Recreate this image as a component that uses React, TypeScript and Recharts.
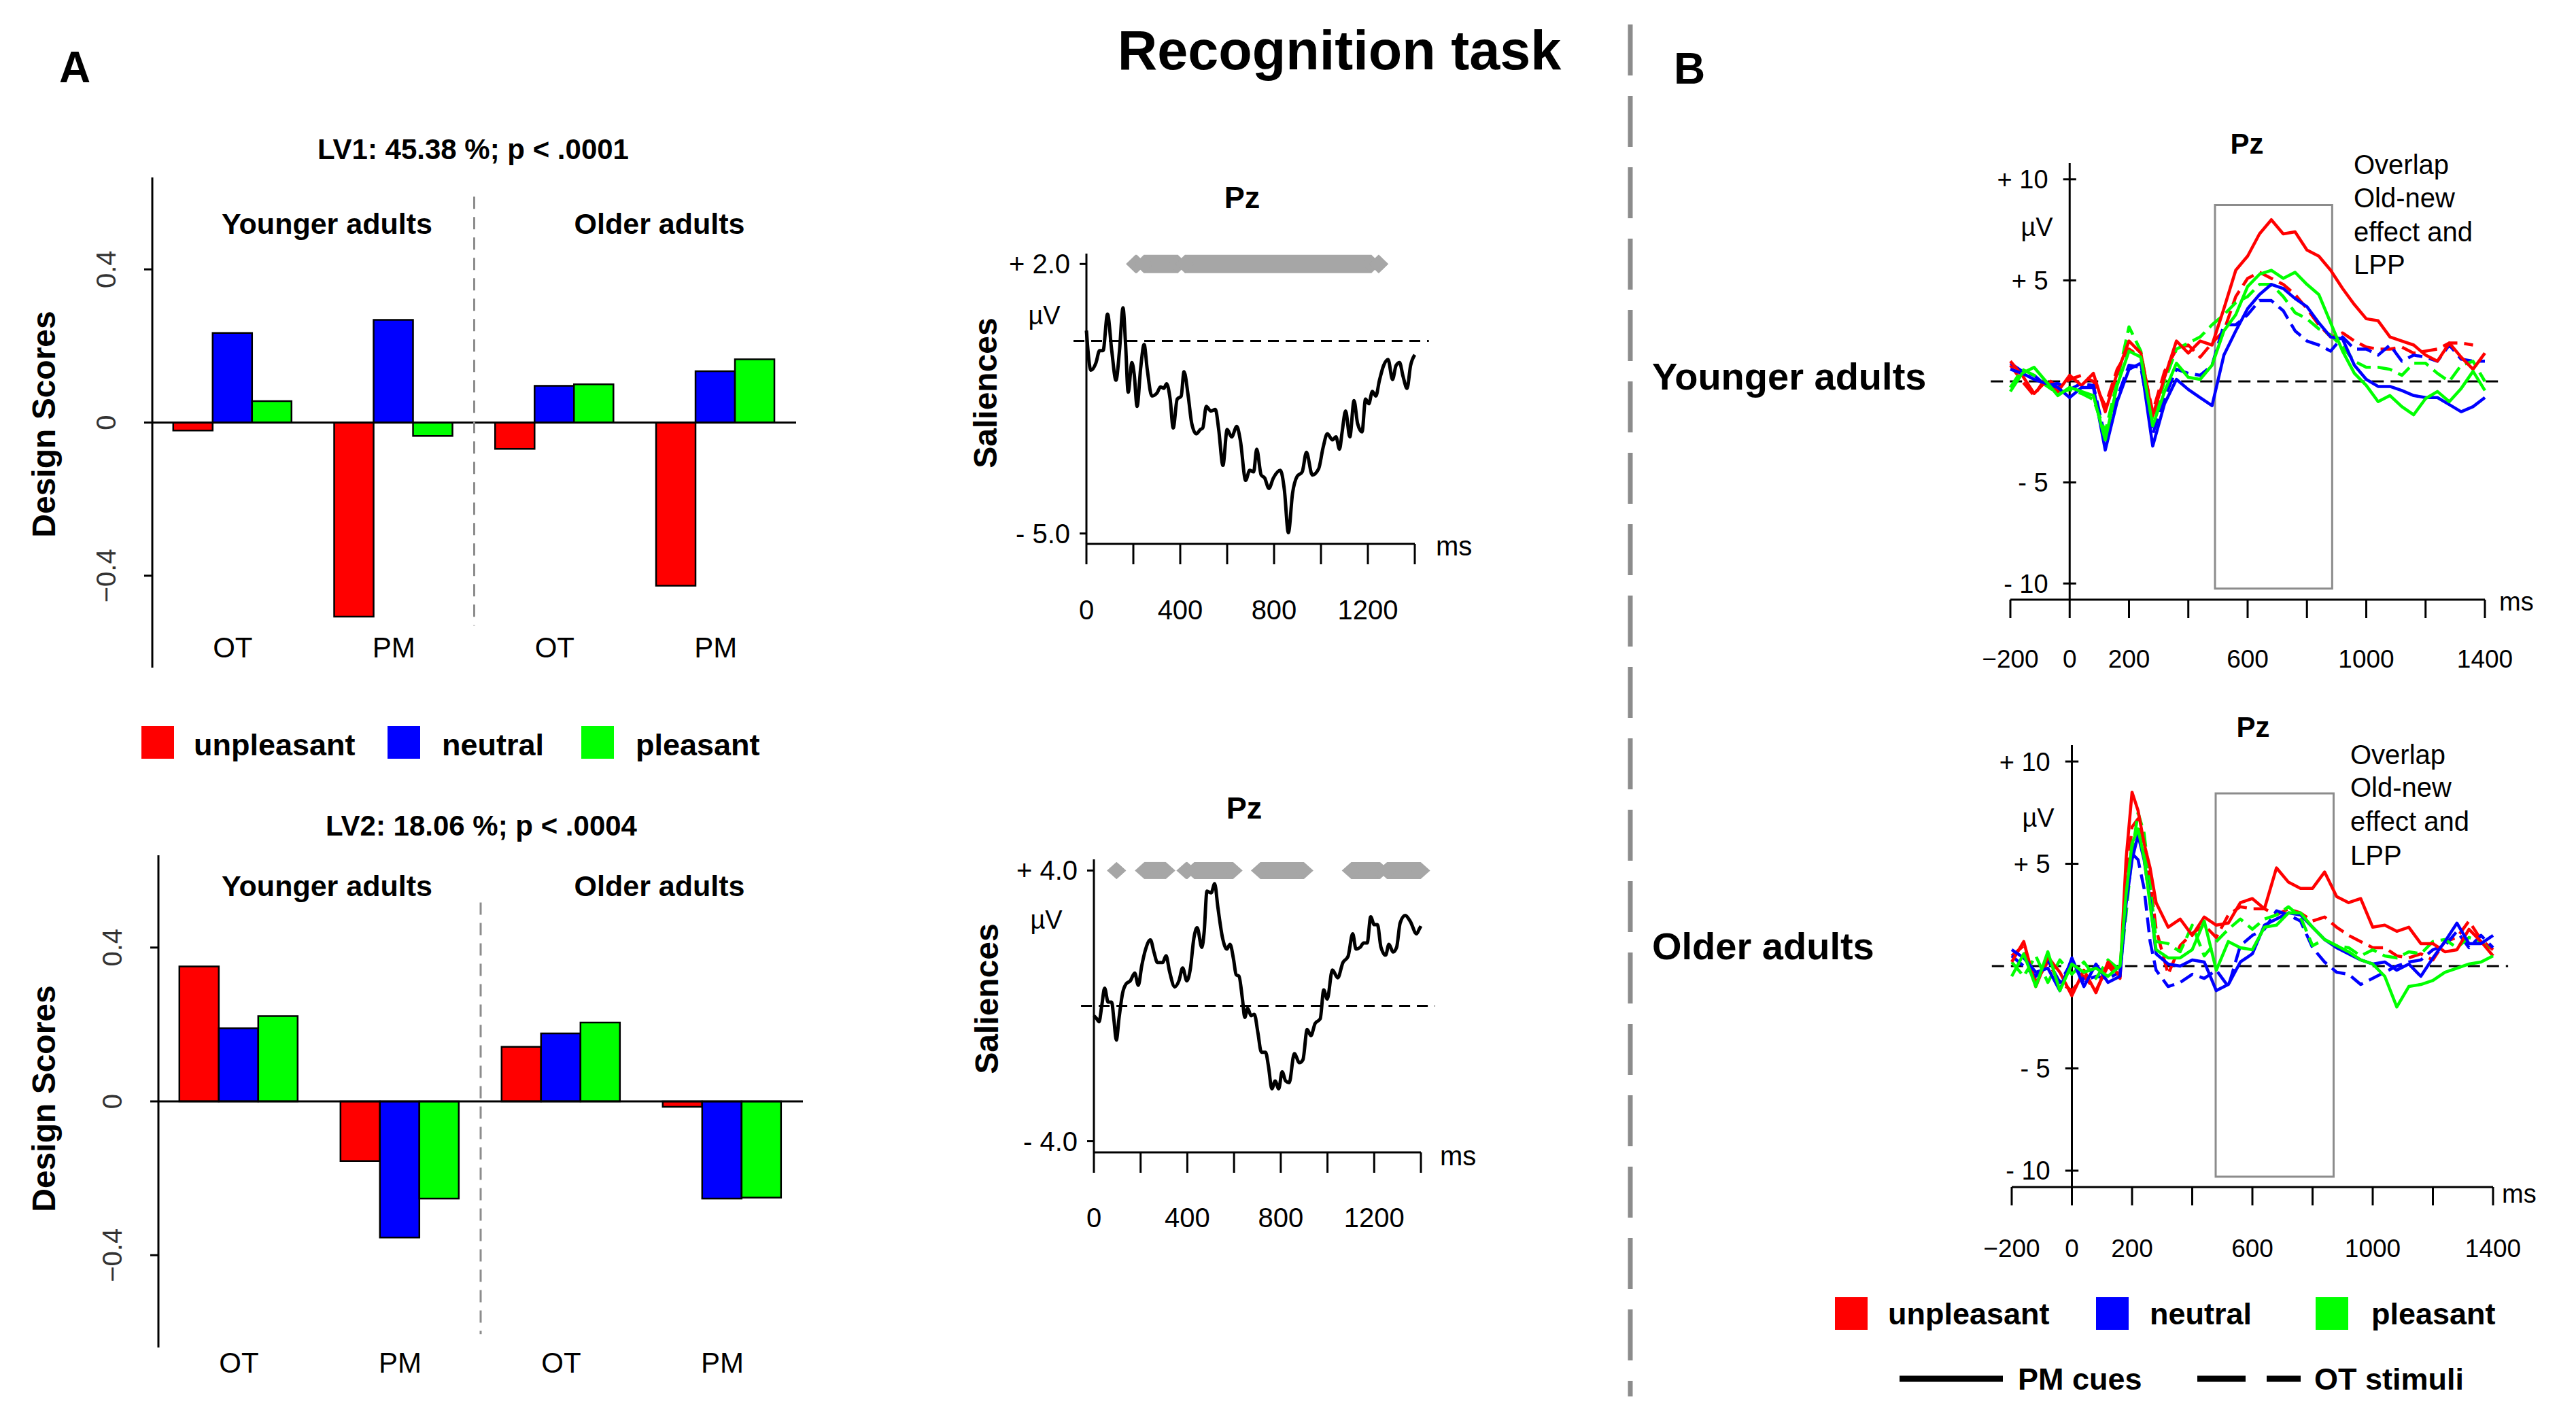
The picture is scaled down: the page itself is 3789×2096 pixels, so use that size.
import React from 'react'
import { Bar, BarChart, Line, LineChart, ReferenceArea, ReferenceLine, XAxis, YAxis } from 'recharts'

const RED = '#ff0000'
const BLUE = '#0000ff'
const GREEN = '#00ff00'
const GREY = '#8c8c8c'
const FONT = '"Liberation Sans", Arial, Helvetica, sans-serif'

// ---------- A: PLS design scores ----------
const CONDITION_KEYS = ['young-OT', 'young-PM', 'old-OT', 'old-PM']
const CONDITION_LABELS = ['OT', 'PM', 'OT', 'PM']
const DESIGN_TICKS = [-0.4, 0, 0.4]

const LV1_UNPLEASANT = [-0.021, -0.507, -0.069, -0.426]
const LV1_NEUTRAL = [0.234, 0.268, 0.096, 0.134]
const LV1_PLEASANT = [0.056, -0.035, 0.1, 0.165]

const LV2_UNPLEASANT = [0.351, -0.155, 0.142, -0.014]
const LV2_NEUTRAL = [0.19, -0.354, 0.177, -0.253]
const LV2_PLEASANT = [0.222, -0.253, 0.205, -0.25]

// ---------- A: saliences at Pz ----------
const SAL_X_TICKS = [0, 200, 400, 600, 800, 1000, 1200, 1400]
const SAL_X_LABELS = [0, 400, 800, 1200]

const SAL1_TIME = [0, 19, 41, 56, 71, 90, 108, 126, 141, 156, 167, 178, 194, 204, 216, 231, 246, 259, 279, 301, 316, 330, 342, 357, 370, 387, 404, 416, 434, 449, 468, 486, 496, 511, 530, 550, 564, 582, 600, 619, 641, 656, 679, 696, 713, 726, 745, 760, 778, 797, 827, 844, 861, 879, 898, 920, 938, 963, 990, 1009, 1027, 1049, 1064, 1079, 1090, 1105, 1123, 1141, 1156, 1175, 1190, 1204, 1219, 1234, 1249, 1267, 1286, 1305, 1320, 1335, 1350, 1367, 1382, 1400]
const SAL1_VALUE = [0.27, -0.76, -0.56, -0.25, -0.25, 0.7, -0.25, -1.02, -0.25, 0.86, -0.09, -1.33, -0.56, -0.88, -1.7, -0.72, -0.09, -0.72, -1.43, -1.35, -1.19, -1.23, -1.11, -1.51, -2.26, -1.51, -1.43, -0.8, -1.43, -2.14, -2.41, -2.3, -2.26, -1.7, -1.82, -1.78, -2.3, -3.23, -2.3, -2.49, -2.22, -2.57, -3.62, -3.36, -3.4, -2.81, -3.48, -3.56, -3.83, -3.56, -3.36, -3.87, -4.98, -3.95, -3.52, -3.4, -2.89, -3.48, -3.32, -2.77, -2.41, -2.57, -2.49, -2.81, -2.37, -1.82, -2.49, -1.55, -2.14, -2.36, -1.51, -1.63, -1.31, -1.43, -1.03, -0.64, -0.48, -1.0, -0.64, -0.56, -0.92, -1.23, -0.64, -0.36]
// significant time windows (first and last diamond centre, ms)
const SAL1_SIG = [[209, 215], [245, 390], [420, 1215], [1245, 1247]]

const SAL2_TIME = [0, 12, 22, 34, 46, 61, 76, 86, 96, 108, 123, 138, 156, 175, 190, 205, 220, 242, 257, 272, 294, 309, 324, 346, 364, 380, 398, 413, 428, 442, 462, 472, 484, 502, 517, 531, 551, 569, 583, 598, 609, 621, 636, 646, 658, 673, 687, 702, 717, 735, 747, 762, 776, 791, 806, 821, 836, 858, 880, 895, 913, 929, 947, 969, 984, 999, 1021, 1044, 1066, 1088, 1108, 1122, 1140, 1155, 1170, 1185, 1200, 1214, 1229, 1249, 1263, 1281, 1296, 1311, 1333, 1355, 1381, 1393, 1400]
const SAL2_VALUE = [-0.29, -0.38, -0.47, 0.02, 0.52, 0.11, 0.11, -0.43, -1.01, -0.34, 0.38, 0.65, 0.74, 0.97, 0.61, 1.19, 1.64, 1.95, 1.59, 1.28, 1.28, 1.48, 1.01, 0.56, 0.74, 1.12, 0.74, 1.1, 2.0, 2.31, 1.73, 2.18, 3.39, 3.34, 3.61, 2.9, 2.0, 1.68, 1.82, 1.37, 0.92, 0.88, 0.2, -0.34, -0.07, -0.29, -0.25, -0.79, -1.37, -1.37, -1.77, -2.45, -2.22, -2.45, -1.95, -2.22, -2.27, -1.41, -1.68, -1.59, -0.7, -0.88, -0.52, -0.38, 0.47, 0.2, 1.06, 0.83, 1.28, 1.46, 2.13, 1.68, 1.73, 1.86, 1.86, 2.63, 2.4, 2.4, 1.73, 1.5, 1.82, 1.59, 1.73, 2.45, 2.67, 2.49, 2.13, 2.27, 2.36]
const SAL2_SIG = [[97, 97], [216, 308], [394, 400], [430, 596], [713, 899], [1102, 1225], [1255, 1399]]

// ---------- B: grand-average ERPs at Pz ----------
const ERP_X_TICKS = [-200, 0, 200, 400, 600, 800, 1000, 1200, 1400]
const ERP_X_LABELS = [-200, 0, 200, 600, 1000, 1400]
const ERP_Y_TICKS = [10, 5, -5, -10]

const YA_TIME = [-200, -160, -120, -80, -40, 0, 40, 80, 120, 160, 200, 240, 280, 320, 360, 400, 440, 480, 520, 560, 600, 640, 680, 720, 760, 800, 840, 880, 920, 960, 1000, 1040, 1080, 1120, 1160, 1200, 1240, 1280, 1320, 1360, 1400]
const YA_UNPLEASANT_PM = [1.0, 0.3, -0.6, 0.0, -0.5, 0.3, -0.2, 0.4, -1.5, 0.4, 2.0, 1.4, -1.7, 0.2, 2.0, 1.4, 2.0, 1.8, 3.6, 5.5, 6.2, 7.3, 8.0, 7.3, 7.4, 6.5, 6.2, 5.5, 4.6, 3.8, 3.1, 3.0, 2.2, 2.0, 1.8, 1.3, 1.0, 1.9, 1.2, 0.6, 1.4]
const YA_UNPLEASANT_OT = [0.8, 0.0, -0.7, 0.2, -0.3, 0.1, 0.3, 0.0, -1.2, 0.6, 1.6, 1.2, -1.5, 0.5, 1.6, 1.8, 1.2, 1.9, 2.5, 4.2, 5.1, 5.4, 5.1, 4.8, 4.3, 3.6, 2.8, 2.2, 2.4, 2.0, 1.7, 1.6, 1.6, 1.7, 1.4, 1.5, 1.6, 1.9, 1.9, 1.8, null]
const YA_NEUTRAL_PM = [0.6, 0.4, 0.1, -0.1, -0.3, -0.8, -0.3, -0.3, -3.4, -1.0, 0.6, 0.9, -3.2, -1.1, 0.1, -0.4, -0.8, -1.2, 1.3, 2.5, 3.6, 4.3, 4.8, 4.6, 4.1, 3.7, 2.9, 2.2, 2.1, 0.8, 0.1, -0.25, -0.25, -0.45, -0.7, -0.8, -0.8, -1.15, -1.5, -1.25, -0.8]
const YA_NEUTRAL_OT = [0.9, 0.5, 0.3, -0.2, -0.1, -0.4, -0.1, -0.2, -2.8, -0.8, 0.8, 0.7, -2.6, -0.8, 0.6, 0.4, 0.3, 0.8, 2.8, 2.8, 3.3, 4.0, 4.0, 3.5, 2.5, 2.0, 1.8, 1.5, 2.2, 1.6, 1.6, 1.3, 1.8, 1.0, 1.3, 1.2, 1.0, 1.8, 1.1, 1.0, 1.0]
const YA_PLEASANT_PM = [-0.5, 0.4, 0.7, 0.0, -0.7, -0.3, -0.5, -0.7, -2.9, -0.2, 1.5, 1.2, -2.2, -0.5, 0.9, 0.2, 0.1, 0.8, 2.5, 3.3, 4.7, 5.3, 5.5, 5.1, 5.4, 4.8, 4.3, 2.9, 1.5, 0.4, -0.2, -1.0, -0.7, -1.25, -1.65, -0.85, -0.5, -1.0, -0.35, 0.5, -0.45]
const YA_PLEASANT_OT = [-0.3, 0.6, 0.3, -0.2, -0.6, -0.4, -0.6, -0.9, -2.5, 0.0, 2.7, 1.5, -1.9, 0.0, 1.6, 1.9, 2.2, 2.8, 3.3, 3.9, 4.2, 4.8, 4.8, 4.2, 3.4, 3.1, 2.6, 2.3, 1.7, 1.0, 0.7, 0.7, 0.6, 0.3, 0.9, 0.9, 0.4, 0.0, 0.8, 1.0, 0.0]

const OA_TIME = [-200, -160, -120, -80, -40, 0, 40, 80, 120, 160, 180, 200, 220, 240, 260, 280, 320, 360, 400, 440, 480, 520, 560, 600, 640, 680, 720, 760, 800, 840, 880, 920, 960, 1000, 1040, 1080, 1120, 1160, 1200, 1240, 1280, 1320, 1360, 1400]
const OA_UNPLEASANT_PM = [0.2, 1.2, -1.0, 0.45, -0.3, -1.45, -0.2, -1.3, 0.2, -0.5, 5.2, 8.5, 7.6, 6.0, 4.8, 3.1, 1.9, 2.3, 1.5, 2.4, 2.0, 2.1, 3.1, 3.3, 2.8, 4.8, 4.1, 3.8, 3.8, 4.6, 3.4, 3.1, 3.3, 1.9, 2.0, 1.7, 1.9, 1.1, 1.1, 0.7, 0.8, 1.8, 1.2, 0.5]
const OA_UNPLEASANT_OT = [0.5, 1.0, -0.8, 0.2, -0.8, -1.2, -0.5, -1.2, 0.0, -0.6, 4.0, 6.8, 7.2, 6.0, 4.2, 1.8, -0.4, 1.0, 1.6, 2.0, 1.4, 2.5, 2.9, 2.8, 2.8, 2.5, 2.8, 2.6, 2.2, 2.4, 1.9, 1.5, 1.2, 0.9, 0.9, 0.5, 0.4, 0.6, 0.3, 1.2, 1.4, 2.2, 1.3, 0.8]
const OA_NEUTRAL_PM = [0.8, 0.4, -0.3, -0.1, -1.2, 0.4, -1.0, 0.1, -0.8, -0.5, 3.0, 5.2, 6.4, 5.2, 3.2, 0.6, 0.1, 0.0, 0.3, 0.2, -1.2, -0.9, 0.2, 0.6, 2.0, 2.3, 2.6, 2.5, 1.9, 1.3, 0.9, 0.6, 0.3, 0.1, 0.2, -0.2, 0.1, -0.5, 0.4, 1.2, 2.1, 1.1, 1.1, 1.5]
const OA_NEUTRAL_OT = [0.5, 0.0, -0.5, 0.3, -0.8, 0.2, -0.7, -0.5, -0.6, -0.3, 3.5, 5.5, 5.2, 3.8, 1.2, -0.2, -1.0, -0.8, -0.4, -0.6, -0.2, -1.0, 1.0, 1.5, 1.8, 2.7, 2.5, 2.2, 0.9, 0.2, -0.3, -0.4, -0.9, -0.6, -0.3, 0.0, 0.2, 0.3, 0.8, 1.0, 1.7, 0.9, 1.5, 0.9]
const OA_PLEASANT_PM = [-0.5, 0.6, -1.0, 0.7, -1.2, 0.1, -0.3, -0.1, -0.5, 0.0, 3.5, 6.0, 6.7, 5.3, 3.0, 0.8, 0.4, 0.4, 0.8, 2.2, -0.2, 1.2, 0.9, 0.8, 1.9, 2.0, 2.6, 2.6, 1.9, 1.3, 1.0, 0.7, 0.3, 0.1, -0.5, -2.0, -1.0, -0.9, -0.7, -0.3, -0.1, 0.1, 0.2, 0.5]
const OA_PLEASANT_OT = [0.2, -0.5, 0.5, -0.8, 0.3, -0.4, 0.2, -0.6, 0.3, -0.2, 2.5, 5.5, 7.5, 6.5, 4.0, 1.2, 1.1, 0.7, 2.0, 0.5, 1.2, 1.8, 2.3, 1.8, 2.3, 2.5, 2.9, 2.4, 1.0, 1.3, 1.0, 0.9, 0.5, 0.8, 0.5, 0.4, 0.7, 0.6, 1.2, 1.3, 0.9, 1.4, 1.2, 0.6]

const ERP_STYLE = [
  { key: 'unplOT', color: RED, dashed: true },
  { key: 'neuOT', color: BLUE, dashed: true },
  { key: 'pleOT', color: GREEN, dashed: true },
  { key: 'unplPM', color: RED, dashed: false },
  { key: 'neuPM', color: BLUE, dashed: false },
  { key: 'plePM', color: GREEN, dashed: false },
]

const AXIS = { stroke: '#000', strokeWidth: 3 }

type TxtProps = {
  x: number
  y: number
  size: number
  bold?: boolean
  anchor?: 'start' | 'middle' | 'end'
  rotate?: number
  color?: string
  children: React.ReactNode
}

function Txt({ x, y, size, bold = false, anchor = 'middle', rotate = 0, color = '#000', children }: TxtProps) {
  const shift = anchor === 'middle' ? '-50%' : anchor === 'end' ? '-100%' : '0%'
  return (
    <div
      style={{
        position: 'absolute',
        left: x,
        top: y,
        transform: `translate(${shift}, -50%)${rotate ? ` rotate(${rotate}deg)` : ''}`,
        fontSize: size,
        fontWeight: bold ? 700 : 400,
        lineHeight: 1,
        whiteSpace: 'nowrap',
        color,
      }}
    >
      {children}
    </div>
  )
}

const fmtDesign = (v: number) => (v === 0 ? '0' : v < 0 ? `\u2212${Math.abs(v)}` : `${v}`)
const fmtSal = (v: number) => (v > 0 ? `+ ${v.toFixed(1)}` : `- ${Math.abs(v).toFixed(1)}`)
const fmtErp = (v: number) => (v > 0 ? `+ ${v}` : `- ${Math.abs(v)}`)
const fmtMs = (v: number) => (v < 0 ? `\u2212${Math.abs(v)}` : `${v}`)

type DesignProps = {
  top: number
  height: number
  margin: { top: number; right: number; bottom: number; left: number }
  unpleasant: number[]
  neutral: number[]
  pleasant: number[]
  labelShift: number
  sep: [number, number]
}

function DesignScoreChart({ top, height, margin, unpleasant, neutral, pleasant, labelShift, sep }: DesignProps) {
  const rows = CONDITION_KEYS.map((key, i) => ({
    key,
    unpleasant: unpleasant[i],
    neutral: neutral[i],
    pleasant: pleasant[i],
  }))
  return (
    <div style={{ position: 'absolute', left: 0, top }}>
      <BarChart width={1200} height={height} data={rows} margin={margin} barCategoryGap="13%" barGap={0}>
        <XAxis
          dataKey="key"
          axisLine={false}
          tickLine={false}
          tickSize={0}
          tickMargin={0}
          height={40}
          interval={0}
          tick={(p: any) => (
            <text x={p.x} y={p.y + labelShift} textAnchor="middle" dominantBaseline="central" fontSize={42} fill="#000">
              {CONDITION_LABELS[CONDITION_KEYS.indexOf(p.payload.value)]}
            </text>
          )}
        />
        <YAxis
          domain={[-0.64, 0.64]}
          ticks={DESIGN_TICKS}
          width={120}
          axisLine={AXIS}
          tickLine={AXIS}
          tickSize={12}
          tickMargin={2}
          tick={(p: any) => (
            <text
              transform={`translate(${p.x - 54},${p.y}) rotate(-90)`}
              textAnchor="middle"
              dominantBaseline="central"
              fontSize={40}
              fill="#333"
            >
              {fmtDesign(p.payload.value)}
            </text>
          )}
        />
        <Bar dataKey="unpleasant" fill={RED} stroke="#000" strokeWidth={2.5} isAnimationActive={false} />
        <Bar dataKey="neutral" fill={BLUE} stroke="#000" strokeWidth={2.5} isAnimationActive={false} />
        <Bar dataKey="pleasant" fill={GREEN} stroke="#000" strokeWidth={2.5} isAnimationActive={false} />
        <ReferenceLine y={0} stroke="#000" strokeWidth={3} />
        <ReferenceLine
          segment={[
            { x: 'old-OT', y: sep[0] },
            { x: 'old-OT', y: sep[1] },
          ]}
          position="start"
          stroke={GREY}
          strokeWidth={3}
          strokeDasharray="18 12"
        />
      </BarChart>
    </div>
  )
}

function Diamond({ cx, cy, hw, hh }: { cx?: number; cy?: number; hw: number; hh: number }) {
  if (cx == null || cy == null) return null
  return <polygon points={`${cx - hw},${cy} ${cx},${cy - hh} ${cx + hw},${cy} ${cx},${cy + hh}`} fill="#a6a6a6" />
}

type SalProps = {
  top: number
  height: number
  margin: { top: number; right: number; bottom: number; left: number }
  time: number[]
  value: number[]
  domain: [number, number]
  yTicks: number[]
  sig: number[][]
  barH: number
  labelShift: number
}

function SalienceChart({ top, height, margin, time, value, domain, yTicks, sig, barH, labelShift }: SalProps) {
  const data = time.map((t, i) => ({ t, v: value[i] }))
  const sigLevel = yTicks[yTicks.length - 1]
  return (
    <div style={{ position: 'absolute', left: 1400, top }}>
      <LineChart width={760} height={height} margin={margin}>
        <XAxis
          type="number"
          dataKey="t"
          domain={[0, 1400]}
          ticks={SAL_X_TICKS}
          tickSize={30}
          tickMargin={0}
          height={140}
          axisLine={AXIS}
          tickLine={AXIS}
          tick={(p: any) => (
            <text x={p.x} y={p.y + labelShift} textAnchor="middle" dominantBaseline="central" fontSize={40} fill="#000">
              {SAL_X_LABELS.includes(p.payload.value) ? p.payload.value : ''}
            </text>
          )}
        />
        <YAxis
          type="number"
          domain={domain}
          ticks={yTicks}
          width={100}
          tickSize={10}
          tickMargin={14}
          axisLine={AXIS}
          tickLine={AXIS}
          tick={(p: any) => (
            <text x={p.x} y={p.y} textAnchor="end" dominantBaseline="central" fontSize={40} fill="#000">
              {fmtSal(p.payload.value)}
            </text>
          )}
        />
        <ReferenceLine
          segment={[
            { x: -55, y: 0 },
            { x: 1460, y: 0 },
          ]}
          ifOverflow="visible"
          stroke="#000"
          strokeWidth={3}
          strokeDasharray="16 10"
        />
        {sig.map(([a, b], i) => (
          <Line
            key={`sig-${i}`}
            data={[
              { t: a, v: sigLevel },
              { t: b, v: sigLevel },
            ]}
            dataKey="v"
            type="linear"
            stroke="#a6a6a6"
            strokeWidth={barH}
            strokeLinecap="butt"
            dot={(d: any) => <Diamond key={`dm-${i}-${d.index}`} cx={d.cx} cy={d.cy} hw={14} hh={barH / 2} />}
            activeDot={false}
            isAnimationActive={false}
          />
        ))}
        <Line data={data} dataKey="v" type="monotone" stroke="#000" strokeWidth={5} dot={false} activeDot={false} isAnimationActive={false} />
      </LineChart>
    </div>
  )
}

type ErpProps = {
  top: number
  height: number
  margin: { top: number; right: number; bottom: number; left: number }
  time: number[]
  unplPM: (number | null)[]
  unplOT: (number | null)[]
  neuPM: (number | null)[]
  neuOT: (number | null)[]
  plePM: (number | null)[]
  pleOT: (number | null)[]
  box: [number, number, number, number]
  labelShift: number
}

function ErpChart({ top, height, margin, time, unplPM, unplOT, neuPM, neuOT, plePM, pleOT, box, labelShift }: ErpProps) {
  const data = time.map((t, i) => ({
    t,
    unplPM: unplPM[i],
    unplOT: unplOT[i],
    neuPM: neuPM[i],
    neuOT: neuOT[i],
    plePM: plePM[i],
    pleOT: pleOT[i],
  }))
  return (
    <div style={{ position: 'absolute', left: 2900, top }}>
      <LineChart width={820} height={height} data={data} margin={margin}>
        <XAxis
          type="number"
          dataKey="t"
          domain={[-200, 1400]}
          ticks={ERP_X_TICKS}
          tickSize={27}
          tickMargin={0}
          height={130}
          axisLine={AXIS}
          tickLine={AXIS}
          tick={(p: any) => (
            <text x={p.x} y={p.y + labelShift} textAnchor="middle" dominantBaseline="central" fontSize={37} fill="#000">
              {ERP_X_LABELS.includes(p.payload.value) ? fmtMs(p.payload.value) : ''}
            </text>
          )}
        />
        <YAxis hide type="number" domain={[-10.8, 10.8]} />
        <ReferenceArea x1={box[0]} x2={box[1]} y1={box[2]} y2={box[3]} fill="none" stroke={GREY} strokeWidth={3} />
        <ReferenceLine x={0} stroke="#000" strokeWidth={3} />
        {ERP_Y_TICKS.map((v) => (
          <ReferenceLine
            key={`yt-${v}`}
            segment={[
              { x: -22, y: v },
              { x: 22, y: v },
            ]}
            stroke="#000"
            strokeWidth={3}
            label={{ value: fmtErp(v), position: 'left', offset: 22, fontSize: 38, fill: '#000' }}
          />
        ))}
        <ReferenceLine
          segment={[
            { x: -266, y: 0 },
            { x: 1450, y: 0 },
          ]}
          ifOverflow="visible"
          stroke="#000"
          strokeWidth={3}
          strokeDasharray="18 10"
        />
        {ERP_STYLE.map((s) => (
          <Line
            key={s.key}
            dataKey={s.key}
            type="linear"
            stroke={s.color}
            strokeWidth={4.5}
            strokeLinejoin="round"
            strokeDasharray={s.dashed ? '22 10' : undefined}
            dot={false}
            activeDot={false}
            isAnimationActive={false}
          />
        ))}
      </LineChart>
    </div>
  )
}

function Swatch({ x, y, color }: { x: number; y: number; color: string }) {
  return <div style={{ position: 'absolute', left: x, top: y, width: 48, height: 48, background: color }} />
}

export default function App() {
  return (
    <div
      style={{
        position: 'absolute',
        left: 0,
        top: 0,
        width: 3789,
        height: 2096,
        background: '#fff',
        fontFamily: FONT,
        overflow: 'hidden',
      }}
    >
      <DesignScoreChart
        top={240}
        height={792}
        margin={{ top: 21, right: 29, bottom: 10, left: 104 }}
        unpleasant={LV1_UNPLEASANT}
        neutral={LV1_NEUTRAL}
        pleasant={LV1_PLEASANT}
        labelShift={-30}
        sep={[0.59, -0.53]}
      />
      <DesignScoreChart
        top={1240}
        height={802}
        margin={{ top: 18, right: 19, bottom: 20, left: 113 }}
        unpleasant={LV2_UNPLEASANT}
        neutral={LV2_NEUTRAL}
        pleasant={LV2_PLEASANT}
        labelShift={22}
        sep={[0.517, -0.605]}
      />

      <SalienceChart
        top={330}
        height={610}
        margin={{ top: 43, right: 79, bottom: 0, left: 98 }}
        time={SAL1_TIME}
        value={SAL1_VALUE}
        domain={[-5.27, 2.27]}
        yTicks={[-5, 2]}
        sig={SAL1_SIG}
        barH={27}
        labelShift={67}
      />
      <SalienceChart
        top={1220}
        height={615}
        margin={{ top: 44, right: 70, bottom: 0, left: 109 }}
        time={SAL2_TIME}
        value={SAL2_VALUE}
        domain={[-4.33, 4.33]}
        yTicks={[-4, 4]}
        sig={SAL2_SIG}
        barH={25}
        labelShift={66}
      />

      <ErpChart
        top={200}
        height={812}
        margin={{ top: 40, right: 65, bottom: 0, left: 57 }}
        time={YA_TIME}
        unplPM={YA_UNPLEASANT_PM}
        unplOT={YA_UNPLEASANT_OT}
        neuPM={YA_NEUTRAL_PM}
        neuOT={YA_NEUTRAL_OT}
        plePM={YA_PLEASANT_PM}
        pleOT={YA_PLEASANT_OT}
        box={[490, 885, -10.25, 8.73]}
        labelShift={60}
      />
      <ErpChart
        top={1060}
        height={816}
        margin={{ top: 36, right: 53, bottom: 0, left: 59 }}
        time={OA_TIME}
        unplPM={OA_UNPLEASANT_PM}
        unplOT={OA_UNPLEASANT_OT}
        neuPM={OA_NEUTRAL_PM}
        neuOT={OA_NEUTRAL_OT}
        plePM={OA_PLEASANT_PM}
        pleOT={OA_PLEASANT_OT}
        box={[478, 870, -10.29, 8.44]}
        labelShift={63}
      />

      {/* divider between A and B */}
      <svg style={{ position: 'absolute', left: 2390, top: 0 }} width={16} height={2096}>
        <line x1={8} y1={36} x2={8} y2={2054} stroke={GREY} strokeWidth={7} strokeDasharray="75 30" />
      </svg>

      {/* headings */}
      <Txt x={110} y={99} size={64} bold>A</Txt>
      <Txt x={2485} y={101} size={64} bold>B</Txt>
      <Txt x={1970} y={74} size={81} bold>Recognition task</Txt>

      {/* panel A: design scores */}
      <Txt x={696} y={220} size={42} bold>LV1: 45.38 %; p &lt; .0001</Txt>
      <Txt x={708} y={1215} size={42} bold>LV2: 18.06 %; p &lt; .0004</Txt>
      <Txt x={481} y={329} size={43} bold>Younger adults</Txt>
      <Txt x={970} y={329} size={43} bold>Older adults</Txt>
      <Txt x={481} y={1303} size={43} bold>Younger adults</Txt>
      <Txt x={970} y={1303} size={43} bold>Older adults</Txt>
      <Txt x={65} y={624} size={48} bold rotate={-90}>Design Scores</Txt>
      <Txt x={65} y={1616} size={48} bold rotate={-90}>Design Scores</Txt>

      <Swatch x={208} y={1068} color={RED} />
      <Txt x={285} y={1095} size={45} bold anchor="start">unpleasant</Txt>
      <Swatch x={570} y={1068} color={BLUE} />
      <Txt x={650} y={1095} size={45} bold anchor="start">neutral</Txt>
      <Swatch x={855} y={1068} color={GREEN} />
      <Txt x={935} y={1095} size={45} bold anchor="start">pleasant</Txt>

      {/* panel A: saliences */}
      <Txt x={1827} y={290} size={45} bold>Pz</Txt>
      <Txt x={1830} y={1188} size={45} bold>Pz</Txt>
      <Txt x={1450} y={578} size={48} bold rotate={-90}>Saliences</Txt>
      <Txt x={1452} y={1469} size={48} bold rotate={-90}>Saliences</Txt>
      <Txt x={1536} y={464} size={38}>µV</Txt>
      <Txt x={1539} y={1353} size={38}>µV</Txt>
      <Txt x={2112} y={803} size={40} anchor="start">ms</Txt>
      <Txt x={2118} y={1700} size={40} anchor="start">ms</Txt>

      {/* panel B: ERPs */}
      <Txt x={2430} y={554} size={56} bold anchor="start">Younger adults</Txt>
      <Txt x={2430} y={1392} size={56} bold anchor="start">Older adults</Txt>
      <Txt x={3305} y={212} size={42} bold>Pz</Txt>
      <Txt x={3314} y={1070} size={42} bold>Pz</Txt>
      <Txt x={2996} y={334} size={38}>µV</Txt>
      <Txt x={2998} y={1203} size={38}>µV</Txt>
      <Txt x={3676} y={885} size={38} anchor="start">ms</Txt>
      <Txt x={3680} y={1756} size={38} anchor="start">ms</Txt>

      <Txt x={3462} y={242} size={40} anchor="start">Overlap</Txt>
      <Txt x={3462} y={291} size={40} anchor="start">Old-new</Txt>
      <Txt x={3462} y={341} size={40} anchor="start">effect and</Txt>
      <Txt x={3462} y={389} size={40} anchor="start">LPP</Txt>
      <Txt x={3457} y={1110} size={40} anchor="start">Overlap</Txt>
      <Txt x={3457} y={1158} size={40} anchor="start">Old-new</Txt>
      <Txt x={3457} y={1208} size={40} anchor="start">effect and</Txt>
      <Txt x={3457} y={1258} size={40} anchor="start">LPP</Txt>

      <Swatch x={2699} y={1908} color={RED} />
      <Txt x={2777} y={1932} size={45} bold anchor="start">unpleasant</Txt>
      <Swatch x={3083} y={1908} color={BLUE} />
      <Txt x={3162} y={1932} size={45} bold anchor="start">neutral</Txt>
      <Swatch x={3406} y={1908} color={GREEN} />
      <Txt x={3488} y={1932} size={45} bold anchor="start">pleasant</Txt>

      <svg style={{ position: 'absolute', left: 2780, top: 2010 }} width={620} height={40}>
        <line x1={14} y1={18} x2={166} y2={18} stroke="#000" strokeWidth={9} />
        <line x1={452} y1={18} x2={604} y2={18} stroke="#000" strokeWidth={9} strokeDasharray="71 31" />
      </svg>
      <Txt x={2968} y={2028} size={45} bold anchor="start">PM cues</Txt>
      <Txt x={3404} y={2028} size={45} bold anchor="start">OT stimuli</Txt>
    </div>
  )
}
